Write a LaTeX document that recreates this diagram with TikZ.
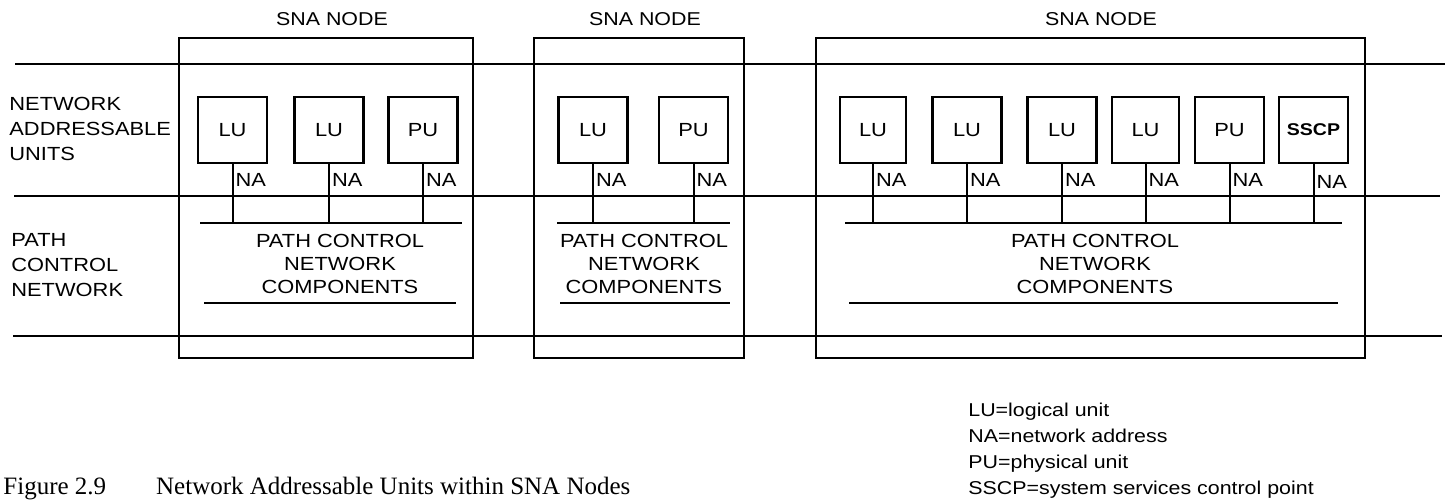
\documentclass[tikz,border=0pt]{standalone}
\usepackage{fontspec}
\setmainfont{Liberation Sans}[FakeStretch=1.15]
\newfontfamily\capfont{Liberation Serif}
\usetikzlibrary{positioning}

\begin{document}
\begin{tikzpicture}[
  x=0.5pt, y=-0.5pt,
  snabox/.style={rectangle, draw, line width=1.2pt, minimum height=160pt},
  unitbox/.style={rectangle, draw, line width=1.2pt, minimum width=34.5pt,
               minimum height=33pt, font=\fontsize{9.5}{11}\selectfont},
  title/.style={font=\fontsize{9.3}{11}\selectfont},
  layer/.style={align=left, anchor=west, inner sep=0pt, font=\fontsize{9.5}{12.5}\selectfont},
  pcn/.style={align=center, font=\fontsize{9.5}{11.5}\selectfont},
  nalab/.style={anchor=west, inner sep=1pt, font=\fontsize{9.5}{11}\selectfont},
  level/.style={line width=1pt},
  bus/.style={line width=1.4pt},
  tap/.style={line width=1pt},
]
\useasboundingbox (0,0) rectangle (1448,499);

% Layer boundaries
\coordinate (topw) at (15,64);    \coordinate (tope) at (1445,64);
\coordinate (midw) at (14,196);   \coordinate (mide) at (1440,196);
\coordinate (botw) at (13,336);   \coordinate (bote) at (1442,336);
\draw[level] (topw) -- (tope);
\draw[level] (midw) -- (mide);
\draw[level] (botw) -- (bote);

% Layer labels
\node[layer] (nau) at (9,129) {NETWORK\\ADDRESSABLE\\UNITS};
\node[layer] (pcnet) at (11,265) {PATH\\CONTROL\\NETWORK};

% SNA nodes
\node[snabox, minimum width=147pt] (sna1) at (326,198) {};
\node[snabox, minimum width=105pt] (sna2) at (639,198) {};
\node[snabox, minimum width=274.5pt] (sna3) at (1090.5,198) {};
\node[title] (t1) at (332,19) {SNA NODE};
\node[title] (t2) at (645,19) {SNA NODE};
\node[title] (t3) at (1101,19) {SNA NODE};

% Units in node 1
\node[unitbox] (lu11) at (232.5,130) {LU};
\node[unitbox] (lu12) at (329,130) {LU};
\node[unitbox] (pu1) at (423,130) {PU};

% Units in node 2
\node[unitbox] (lu21) at (593,130) {LU};
\node[unitbox] (pu2) at (693.5,130) {PU};

% Units in node 3
\node[unitbox, minimum width=33pt] (lu31) at (873,130) {LU};
\node[unitbox] (lu32) at (967,130) {LU};
\node[unitbox] (lu33) at (1062,130) {LU};
\node[unitbox, minimum width=33.5pt] (lu34) at (1145.5,130) {LU};
\node[unitbox] (pu3) at (1229.5,130) {PU};
\node[unitbox, font=\fontsize{8.5}{10}\selectfont\bfseries] (sscp) at (1313.5,130) {SSCP};

% Path control components
\coordinate (bus1w) at (200,223);  \coordinate (bus1e) at (462,223);
\coordinate (bus2w) at (557,223);  \coordinate (bus2e) at (730,223);
\coordinate (bus3w) at (845,223);  \coordinate (bus3e) at (1342,223);
\draw[bus] (bus1w) -- (bus1e);
\draw[bus] (bus2w) -- (bus2e);
\draw[bus] (bus3w) -- (bus3e);
\coordinate (base1w) at (204,303); \coordinate (base1e) at (456,303);
\coordinate (base2w) at (560,303); \coordinate (base2e) at (730,303);
\coordinate (base3w) at (849,303); \coordinate (base3e) at (1338,303);
\draw[bus] (base1w) -- (base1e);
\draw[bus] (base2w) -- (base2e);
\draw[bus] (base3w) -- (base3e);
\node[pcn] (pcn1) at (340,264) {PATH CONTROL\\NETWORK\\COMPONENTS};
\node[pcn] (pcn2) at (644,264) {PATH CONTROL\\NETWORK\\COMPONENTS};
\node[pcn] (pcn3) at (1095,264) {PATH CONTROL\\NETWORK\\COMPONENTS};

% Network addresses
\draw[tap] (lu11) -- (lu11 |- bus1w) node[nalab, pos=0.26] {NA};
\draw[tap] (lu12) -- (lu12 |- bus1w) node[nalab, pos=0.26] {NA};
\draw[tap] (pu1) -- (pu1 |- bus1w) node[nalab, pos=0.26] {NA};
\draw[tap] (lu21) -- (lu21 |- bus2w) node[nalab, pos=0.26] {NA};
\draw[tap] (pu2) -- (pu2 |- bus2w) node[nalab, pos=0.26] {NA};
\draw[tap] (lu31) -- (lu31 |- bus3w) node[nalab, pos=0.26] {NA};
\draw[tap] (lu32) -- (lu32 |- bus3w) node[nalab, pos=0.26] {NA};
\draw[tap] (lu33) -- (lu33 |- bus3w) node[nalab, pos=0.26] {NA};
\draw[tap] (lu34) -- (lu34 |- bus3w) node[nalab, pos=0.26] {NA};
\draw[tap] (pu3) -- (pu3 |- bus3w) node[nalab, pos=0.26] {NA};
\draw[tap] (sscp) -- (sscp |- bus3w) node[nalab, pos=0.3] {NA};

% Legend
\node[align=left, anchor=north west, inner sep=0pt,
      font=\fontsize{9.3}{13}\selectfont] (legend) at (968,403)
  {LU=logical unit\\NA=network address\\PU=physical unit\\SSCP=system services control point};

% Caption
\node[anchor=base west, inner sep=0pt, font=\capfont\fontsize{12.5}{14}\selectfont]
  (caption) at (3,494) {Figure 2.9\hspace{2em}Network Addressable Units within SNA Nodes};
\end{tikzpicture}
\end{document}
